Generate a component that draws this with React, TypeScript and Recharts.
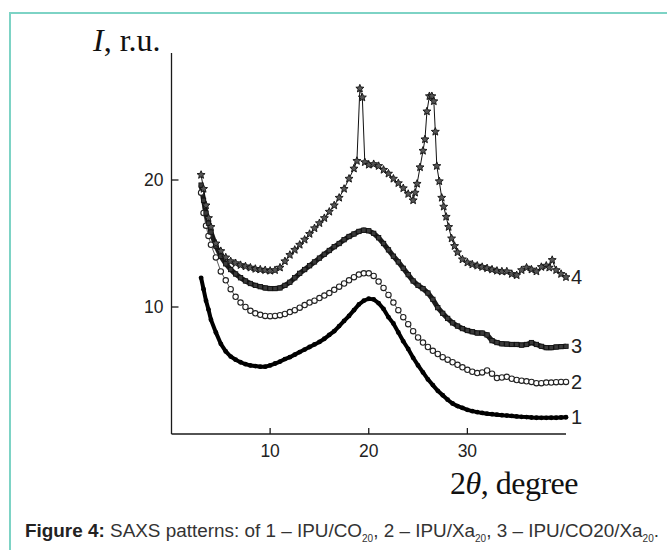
import React from 'react';
import { LineChart, Line, XAxis, YAxis } from 'recharts';

// 2θ grid shared by curves 1-3
const theta = [
  3, 3.25, 3.5, 3.75, 4,
  4.5, 5, 5.5, 6, 6.5, 7, 7.5, 8, 8.5, 9, 9.5,
  10, 10.5, 11, 11.5, 12, 12.5, 13, 13.5, 14, 14.5,
  15, 15.5, 16, 16.5, 17, 17.5, 18, 18.5, 19, 19.5,
  20, 20.5, 21, 21.5, 22, 22.5, 23, 23.5, 24, 24.5,
  25, 25.5, 26, 26.5, 27, 27.5, 28, 28.5, 29, 29.5,
  30, 30.5, 31, 31.5, 32, 32.5, 33, 33.5, 34, 34.5,
  35, 35.5, 36, 36.5, 37, 37.5, 38, 38.5, 39, 39.5, 40,
];

// 1 - IPU/CO20
const ipuCo = [
  12.3, 11.4, 10.5, 9.8, 9.0,
  8.0, 7.1, 6.5, 6.1, 5.85, 5.65, 5.5, 5.4, 5.35, 5.3, 5.3,
  5.4, 5.55, 5.7, 5.9, 6.05, 6.25, 6.45, 6.65, 6.85, 7.05,
  7.25, 7.5, 7.8, 8.1, 8.5, 8.9, 9.3, 9.75, 10.2, 10.5,
  10.65, 10.6, 10.3, 9.85, 9.2, 8.7, 8.0, 7.3, 6.7, 6.0,
  5.4, 4.85, 4.3, 3.85, 3.4, 3.05, 2.7, 2.4, 2.2, 2.05,
  1.9, 1.8, 1.72, 1.66, 1.6, 1.56, 1.52, 1.48, 1.45, 1.42,
  1.38, 1.35, 1.33, 1.3, 1.28, 1.27, 1.27, 1.28, 1.28, 1.3, 1.32,
];

// 2 - IPU/Xa20
const ipuXa = [
  19.0, 17.4, 16.4, 15.6, 14.9,
  13.9, 12.8, 12.1, 11.4, 10.8, 10.35, 10.0, 9.7, 9.5, 9.38, 9.3,
  9.28, 9.3, 9.36, 9.45, 9.6, 9.75, 9.95, 10.15, 10.35, 10.5,
  10.7, 10.9, 11.1, 11.35, 11.6, 11.85, 12.1, 12.35, 12.55, 12.65,
  12.65, 12.45, 12.0, 11.5, 10.95, 10.35, 9.75, 9.2, 8.65, 8.1,
  7.6, 7.2, 6.85, 6.55, 6.3, 6.05, 5.85, 5.65, 5.45, 5.25,
  5.05, 4.9, 4.8, 4.85, 5.0, 4.75, 4.4, 4.45, 4.5, 4.35,
  4.25, 4.2, 4.15, 4.1, 4.0, 4.0, 4.05, 4.05, 4.08, 4.1, 4.1,
];

// 3 - IPU/CO20/Xa20
const ipuCoXa = [
  19.6, 18.4, 17.4, 16.6, 15.9,
  14.8, 14.0, 13.4, 12.95, 12.6, 12.3, 12.05, 11.85, 11.7, 11.6, 11.5,
  11.45, 11.45, 11.5, 11.7, 11.95, 12.3, 12.65, 12.95, 13.25, 13.55,
  13.85, 14.15, 14.45, 14.75, 15.0, 15.3, 15.55, 15.75, 15.95, 16.05,
  16.0, 15.8, 15.45, 15.0, 14.5, 14.0, 13.55, 13.05, 12.55, 12.05,
  11.7, 11.45, 11.1, 10.6, 9.95, 9.5, 9.1, 8.75, 8.5, 8.3,
  8.15, 8.05, 7.95, 7.95, 7.8, 7.35, 7.2, 7.1, 7.08, 7.05,
  7.05, 7.0, 7.05, 7.2, 7.05, 6.9, 6.8, 6.8, 6.85, 6.88, 6.9,
];

// 4 - has its own grid, finer around the two sharp peaks
const theta4 = [
  3, 3.25, 3.5, 3.75, 4, 4.5, 5, 5.5, 6, 6.5, 7, 7.5, 8, 8.5, 9, 9.5,
  10, 10.5, 11, 11.5, 12, 12.5, 13, 13.5, 14, 14.5, 15, 15.5, 16, 16.5,
  17, 17.5, 18, 18.5, 18.8, 19.1, 19.35, 19.6, 20, 20.5, 21, 21.5, 22, 22.5,
  23, 23.5, 24, 24.5, 24.7, 24.9, 25.2, 25.5, 25.7, 25.9, 26.15, 26.4, 26.6,
  26.75, 26.9, 27.15, 27.4, 27.6, 27.85, 28.1, 28.4, 28.7, 29, 29.5,
  30, 30.5, 31, 31.5, 32, 32.5, 33, 33.5, 34, 34.5, 35, 35.5, 36, 36.5,
  37, 37.5, 38, 38.3, 38.6, 39, 39.5, 40,
];
const sample4 = [
  20.4, 19.3, 18.0, 17.0, 16.3, 15.0, 14.4, 13.9, 13.6, 13.45, 13.3, 13.2, 13.1, 13.0, 12.95, 12.9,
  12.85, 12.9, 13.1, 13.6, 14.1, 14.5, 14.9, 15.3, 15.75, 16.2, 16.6, 17.0, 17.5, 18.0,
  18.6, 19.3, 20.1, 20.9, 21.5, 27.2, 26.5, 21.4, 21.2, 21.25, 21.1, 20.8, 20.5, 20.1,
  19.75, 19.35, 18.9, 18.4, 19.0, 19.7, 21.0, 22.3, 23.2, 25.4, 26.6, 26.6, 26.2,
  23.8, 21.1, 19.9, 18.6, 17.9, 17.1, 16.3, 15.4, 14.8, 14.3, 13.75,
  13.5, 13.35, 13.25, 13.15, 13.05, 12.95, 12.85, 12.8, 12.8, 12.6, 12.5, 12.9, 13.1, 12.95,
  12.8, 13.15, 13.25, 13.1, 13.7, 12.9, 12.6, 12.35,
];

const xTicks = [10, 20, 30];
const yTicks = [10, 20];

const toRows = (xs: number[], ys: number[]) => xs.map((x, i) => ({ x, y: ys[i] }));

const s1 = toRows(theta, ipuCo);
const s2 = toRows(theta, ipuXa);
const s3 = toRows(theta, ipuCoXa);
const s4 = toRows(theta4, sample4);

const INK = '#1a1a1a';

const starPath = (cx: number, cy: number, r: number) => {
  const pts: string[] = [];
  for (let k = 0; k < 10; k++) {
    const rr = k % 2 === 0 ? r : r * 0.45;
    const a = -Math.PI / 2 + (k * Math.PI) / 5;
    pts.push(`${(cx + rr * Math.cos(a)).toFixed(2)},${(cy + rr * Math.sin(a)).toFixed(2)}`);
  }
  return `M${pts.join('L')}Z`;
};

const YTick = (p: any) => {
  const ax = p.x + 8;
  return (
    <g>
      <line x1={ax} y1={p.y} x2={ax + 7} y2={p.y} stroke={INK} strokeWidth={1.3} />
      <text x={p.x} y={p.y + 6} textAnchor="end" fontFamily="Liberation Sans, Arial" fontSize={17.5} fill="#222">
        {p.payload.value}
      </text>
    </g>
  );
};

const XTick = (p: any) => (
  <g>
    <line x1={p.x} y1={p.y} x2={p.x} y2={p.y - 6} stroke={INK} strokeWidth={1.3} />
    <text x={p.x} y={p.y + 23} textAnchor="middle" fontFamily="Liberation Sans, Arial" fontSize={17.5} fill="#222">
      {p.payload.value}
    </text>
  </g>
);

const endLabel = (name: string, last: number) => (p: any) =>
  p.index === last ? (
    <text key={name} x={p.x + 5} y={p.y + 7} fontFamily="Liberation Sans, Arial" fontSize={20} fill="#222">
      {name}
    </text>
  ) : (
    <g key={`${name}-${p.index}`} />
  );

const App = () => {
  const sub = { fontSize: 10, verticalAlign: 'sub' } as React.CSSProperties;
  return (
    <div style={{ position: 'absolute', left: 0, top: 0, width: 667, height: 550, background: '#fff', overflow: 'hidden' }}>
      <div style={{ position: 'absolute', left: 9, top: 12, width: 700, height: 600, borderLeft: '2px solid #7dd3c5', borderTop: '2px solid #7dd3c5' }} />
      <LineChart
        width={667}
        height={550}
        margin={{ top: 53, right: 101, bottom: 86, left: 111.5 }}
        style={{ position: 'absolute', left: 0, top: 0 }}
      >
        <XAxis
          type="number"
          dataKey="x"
          domain={[0, 40]}
          ticks={xTicks}
          interval={0}
          height={30}
          tickSize={0}
          tickMargin={0}
          tick={<XTick />}
          tickLine={false}
          axisLine={{ stroke: INK, strokeWidth: 1.3 }}
          allowDuplicatedCategory={false}
        />
        <YAxis
          type="number"
          dataKey="y"
          domain={[0, 30]}
          ticks={yTicks}
          interval={0}
          width={60}
          tickSize={0}
          tickMargin={8}
          tick={<YTick />}
          tickLine={false}
          axisLine={{ stroke: INK, strokeWidth: 1.3 }}
        />
        <Line
          data={s1}
          dataKey="y"
          stroke="#000"
          strokeWidth={4}
          isAnimationActive={false}
          dot={(p: any) => <circle key={p.index} cx={p.cx} cy={p.cy} r={2.4} fill="#000" />}
          label={endLabel('1', s1.length - 1)}
        />
        <Line
          data={s2}
          dataKey="y"
          stroke="#333"
          strokeWidth={0.8}
          isAnimationActive={false}
          dot={(p: any) => <circle key={p.index} cx={p.cx} cy={p.cy} r={2.7} fill="#fff" stroke="#222" strokeWidth={1.1} />}
          label={endLabel('2', s2.length - 1)}
        />
        <Line
          data={s3}
          dataKey="y"
          stroke="#1c1c1c"
          strokeWidth={5}
          isAnimationActive={false}
          dot={(p: any) => (
            <rect key={p.index} x={p.cx - 2.2} y={p.cy - 2.2} width={4.4} height={4.4} fill="#3a3a3a" stroke="#111" strokeWidth={0.8} />
          )}
          label={endLabel('3', s3.length - 1)}
        />
        <Line
          data={s4}
          dataKey="y"
          stroke="#111"
          strokeWidth={1}
          isAnimationActive={false}
          dot={(p: any) => <path key={p.index} d={starPath(p.cx, p.cy, 4.2)} fill="#555" stroke="#111" strokeWidth={0.9} />}
          label={endLabel('4', s4.length - 1)}
        />
      </LineChart>
      <div style={{ position: 'absolute', left: 93, top: 22, fontFamily: 'Liberation Serif, Times New Roman', fontSize: 32, color: '#111', whiteSpace: 'nowrap' }}>
        <i>I</i>, r.u.
      </div>
      <div style={{ position: 'absolute', left: 450, top: 465, fontFamily: 'Liberation Serif, Times New Roman', fontSize: 32, color: '#111', whiteSpace: 'nowrap', letterSpacing: -0.5 }}>
        2<i>θ</i>, degree
      </div>
      <div style={{ position: 'absolute', left: 25, top: 520, fontFamily: 'Liberation Sans, Arial', fontSize: 18.9, color: '#333', whiteSpace: 'nowrap' }}>
        <b style={{ color: '#222' }}>Figure 4:</b> SAXS patterns: of 1 – IPU/CO<span style={sub}>20</span>, 2 – IPU/Xa<span style={sub}>20</span>, 3 – IPU/CO20/Xa<span style={sub}>20</span>.
      </div>
    </div>
  );
};

export default App;
